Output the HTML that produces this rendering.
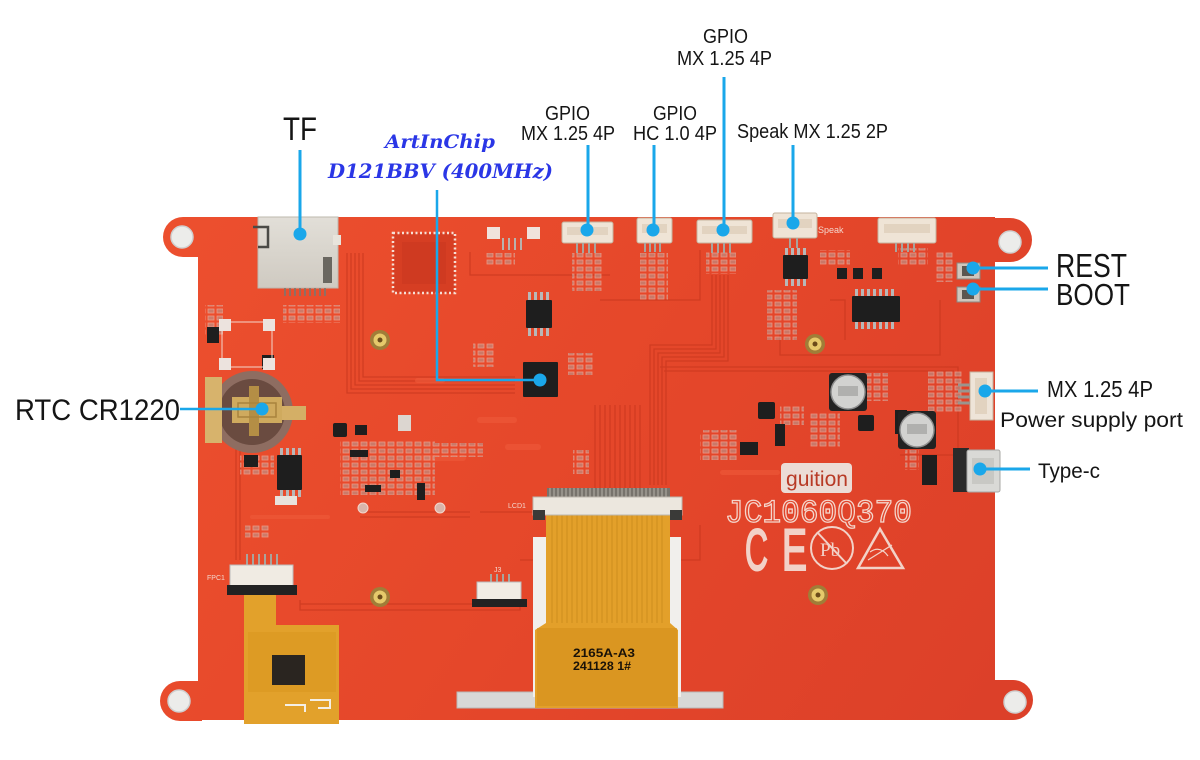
<!DOCTYPE html>
<html><head><meta charset="utf-8">
<style>
html,body{margin:0;padding:0;background:#fff;}
svg{display:block;}
.lbl{font-family:"Liberation Sans",sans-serif;fill:#151515;}
.blu{font-family:"DejaVu Serif","Liberation Serif",serif;font-style:italic;font-weight:bold;fill:#2a36e6;}
.silk{font-family:"Liberation Sans",sans-serif;fill:#f4d6cc;}
</style></head><body>
<svg width="1200" height="760" viewBox="0 0 1200 760" xmlns="http://www.w3.org/2000/svg">
<defs>
<linearGradient id="pcb" gradientUnits="userSpaceOnUse" x1="200" y1="217" x2="995" y2="720">
<stop offset="0" stop-color="#ec4f2e"/>
<stop offset="0.5" stop-color="#e5472a"/>
<stop offset="1" stop-color="#dc4029"/>
</linearGradient>
<linearGradient id="silver" x1="0" y1="0" x2="0" y2="1">
<stop offset="0" stop-color="#e2dfd8"/><stop offset="1" stop-color="#cfcac1"/>
</linearGradient>
<pattern id="res" width="9" height="7" patternUnits="userSpaceOnUse">
<rect x="1" y="1" width="6" height="4" fill="#b99a92" stroke="#f0c8bc" stroke-width="0.8"/>
</pattern>
</defs>
<rect width="1200" height="760" fill="#fff"/>

<!-- PCB body -->
<g fill="url(#pcb)">
<rect x="198" y="217" width="797" height="503"/>
<circle cx="183" cy="237" r="20"/><rect x="183" y="217" width="20" height="40"/>
<circle cx="1010" cy="240" r="22"/><rect x="990" y="218" width="20" height="44"/>
<circle cx="180" cy="701" r="20"/><rect x="180" y="681" width="22" height="40"/>
<circle cx="1013" cy="700" r="20"/><rect x="990" y="680" width="23" height="40"/>
</g>
<g fill="#ececea" stroke="#cfcfcf" stroke-width="1.5">
<circle cx="182" cy="237" r="11"/><circle cx="1010" cy="242" r="11"/>
<circle cx="179" cy="701" r="11"/><circle cx="1015" cy="702" r="11"/>
</g>

<!-- traces -->
<g fill="none" stroke="#c9381f" stroke-width="1.3" opacity="0.75">
<path d="M712 275 V345 H650 V485"/><path d="M716 275 V349 H654 V485"/><path d="M720 275 V353 H658 V485"/><path d="M724 275 V357 H662 V485"/><path d="M728 275 V361 H666 V485"/>
<path d="M347 253 V393 H515"/><path d="M351 253 V389 H515"/><path d="M355 253 V385 H515"/><path d="M359 253 V381 H515"/><path d="M363 253 V377 H515"/>
<path d="M595 405 V488"/><path d="M600 405 V488"/><path d="M605 405 V488"/><path d="M610 405 V488"/><path d="M615 405 V488"/><path d="M620 405 V488"/><path d="M625 405 V488"/><path d="M630 405 V488"/><path d="M635 405 V488"/><path d="M640 405 V488"/>
<path d="M660 367 H958 V455"/><path d="M664 371 H954"/>
<path d="M470 252 V275 H610"/><path d="M600 300 H700 V250"/>
<path d="M236 560 V420 H205"/><path d="M240 560 V425"/>
<path d="M360 512 H470"/><path d="M360 517 H470"/><path d="M480 512 H560 V488"/>
<path d="M520 560 H700 V525"/><path d="M780 330 V355 H940 V300"/>
<path d="M830 300 H845 V340"/><path d="M900 455 H960"/>
<path d="M300 600 V610 H520 V590"/><path d="M300 604 H516"/>
</g>
<g fill="#ef5a3a" opacity="0.6">
<rect x="477" y="417" width="40" height="6" rx="3"/><rect x="505" y="444" width="36" height="6" rx="3"/>
<rect x="420" y="455" width="46" height="6" rx="3"/><rect x="720" y="470" width="60" height="5" rx="2.5"/>
<rect x="415" y="378" width="30" height="5" rx="2.5"/><rect x="250" y="515" width="80" height="4" rx="2"/>
</g>

<!-- small resistor fields -->
<g fill="url(#res)" opacity="0.6">
<rect x="572" y="253" width="30" height="38"/><rect x="640" y="253" width="28" height="48"/>
<rect x="706" y="252" width="30" height="22"/><rect x="283" y="305" width="57" height="18"/>
<rect x="485" y="253" width="30" height="12"/><rect x="473" y="343" width="22" height="24"/>
<rect x="568" y="353" width="25" height="22"/><rect x="767" y="290" width="30" height="50"/>
<rect x="935" y="252" width="18" height="30"/><rect x="928" y="370" width="34" height="42"/>
<rect x="700" y="433" width="37" height="27"/><rect x="780" y="405" width="24" height="20"/>
<rect x="810" y="413" width="30" height="34"/><rect x="866" y="373" width="22" height="28"/>
<rect x="340" y="440" width="95" height="55"/><rect x="433" y="443" width="50" height="14"/>
<rect x="573" y="450" width="16" height="24"/><rect x="703" y="430" width="34" height="30"/>
<rect x="205" y="305" width="18" height="30"/><rect x="240" y="455" width="34" height="20"/>
<rect x="245" y="525" width="25" height="14"/><rect x="820" y="250" width="30" height="15"/>
<rect x="898" y="248" width="30" height="18"/><rect x="905" y="450" width="14" height="20"/>
</g>

<!-- TF slot -->
<rect x="258" y="217" width="80" height="71" fill="url(#silver)" stroke="#bdb8ae" stroke-width="1"/>
<path d="M253 227 H268 V247 H258" fill="none" stroke="#4a4a46" stroke-width="2.5"/>
<rect x="323" y="257" width="9" height="26" fill="#6a6760"/>
<rect x="333" y="235" width="8" height="10" fill="#e8e4dc"/>
<g stroke="#7a776f" stroke-width="1.6"><path d="M285 288V296M290 288V296M295 288V296M300 288V296M305 288V296M310 288V296M315 288V296M320 288V296M325 288V296"/></g>

<!-- U9 -->
<rect x="393" y="233" width="62" height="60" fill="#d63e23" stroke="#f6e0d6" stroke-width="2.5" stroke-dasharray="2 2.5"/>
<rect x="402" y="242" width="44" height="42" fill="#cf3a21"/>

<!-- P5 -->
<rect x="487" y="227" width="13" height="12" fill="#f0e2dc"/><rect x="527" y="227" width="13" height="12" fill="#f0e2dc"/>
<g stroke="#b9b2ad" stroke-width="2"><path d="M503 238V250M509 238V250M515 238V250M521 238V250"/></g>

<!-- top connectors -->
<g fill="#efe4d6" stroke="#c6b39e" stroke-width="1">
<rect x="562" y="222" width="51" height="21" rx="2"/>
<rect x="637" y="218" width="35" height="25" rx="2"/>
<rect x="697" y="220" width="55" height="23" rx="2"/>
<rect x="773" y="213" width="44" height="25" rx="2"/>
<rect x="878" y="218" width="58" height="25" rx="2"/>
</g>
<g fill="#e2d3c0">
<rect x="567" y="227" width="41" height="8"/><rect x="642" y="224" width="25" height="9"/>
<rect x="702" y="226" width="45" height="8"/><rect x="778" y="219" width="34" height="9"/>
<rect x="884" y="224" width="46" height="9"/>
</g>
<g stroke="#a9a49d" stroke-width="2">
<path d="M577 243V253M583 243V253M589 243V253M595 243V253"/>
<path d="M645 243V252M650 243V252M655 243V252M660 243V252"/>
<path d="M712 243V253M718 243V253M724 243V253M730 243V253"/>
<path d="M790 238V248M797 238V248"/>
<path d="M896 243V252M902 243V252M908 243V252M914 243V252"/>
</g>
<text class="silk" x="818" y="233" font-size="9">Speak</text>

<!-- chips -->
<g fill="#1e1e1e">
<rect x="526" y="300" width="26" height="28" rx="1"/>
<rect x="523" y="362" width="35" height="35" rx="1"/>
<rect x="783" y="255" width="25" height="24" rx="1"/>
<rect x="852" y="296" width="48" height="26" rx="1"/>
<rect x="277" y="455" width="25" height="35" rx="1"/>
<rect x="837" y="268" width="10" height="11"/><rect x="853" y="268" width="10" height="11"/><rect x="872" y="268" width="10" height="11"/>
<rect x="758" y="402" width="17" height="17" rx="2"/><rect x="858" y="415" width="16" height="16" rx="2"/>
<rect x="333" y="423" width="14" height="14" rx="2"/><rect x="355" y="425" width="12" height="10"/>
<rect x="350" y="450" width="18" height="7"/><rect x="365" y="485" width="16" height="7"/>
<rect x="390" y="470" width="10" height="8"/><rect x="417" y="483" width="8" height="17"/>
<rect x="244" y="455" width="14" height="12"/><rect x="740" y="442" width="18" height="13"/>
<rect x="775" y="424" width="10" height="22"/><rect x="895" y="410" width="12" height="24"/>
<rect x="207" y="327" width="12" height="16"/><rect x="262" y="355" width="12" height="14"/>
<rect x="922" y="455" width="15" height="30"/><rect x="810" y="470" width="12" height="10"/>
</g>
<g fill="#b8b8b8">
<rect x="528" y="292" width="3" height="8"/><rect x="534" y="292" width="3" height="8"/><rect x="540" y="292" width="3" height="8"/><rect x="546" y="292" width="3" height="8"/>
<rect x="528" y="328" width="3" height="8"/><rect x="534" y="328" width="3" height="8"/><rect x="540" y="328" width="3" height="8"/><rect x="546" y="328" width="3" height="8"/>
<rect x="785" y="248" width="3" height="7"/><rect x="791" y="248" width="3" height="7"/><rect x="797" y="248" width="3" height="7"/><rect x="803" y="248" width="3" height="7"/>
<rect x="785" y="279" width="3" height="7"/><rect x="791" y="279" width="3" height="7"/><rect x="797" y="279" width="3" height="7"/><rect x="803" y="279" width="3" height="7"/>
<rect x="855" y="289" width="3" height="7"/><rect x="861" y="289" width="3" height="7"/><rect x="867" y="289" width="3" height="7"/><rect x="873" y="289" width="3" height="7"/><rect x="879" y="289" width="3" height="7"/><rect x="885" y="289" width="3" height="7"/><rect x="891" y="289" width="3" height="7"/>
<rect x="855" y="322" width="3" height="7"/><rect x="861" y="322" width="3" height="7"/><rect x="867" y="322" width="3" height="7"/><rect x="873" y="322" width="3" height="7"/><rect x="879" y="322" width="3" height="7"/><rect x="885" y="322" width="3" height="7"/><rect x="891" y="322" width="3" height="7"/>
<rect x="280" y="448" width="3" height="7"/><rect x="286" y="448" width="3" height="7"/><rect x="292" y="448" width="3" height="7"/><rect x="298" y="448" width="3" height="7"/>
<rect x="280" y="490" width="3" height="7"/><rect x="286" y="490" width="3" height="7"/><rect x="292" y="490" width="3" height="7"/><rect x="298" y="490" width="3" height="7"/>
</g>
<rect x="275" y="496" width="22" height="9" fill="#e8e2dc"/>
<rect x="398" y="415" width="13" height="16" fill="#dcd6d0"/>
<circle cx="363" cy="508" r="5" fill="#d9b5aa" stroke="#f3d6cc"/><circle cx="440" cy="508" r="5" fill="#d9b5aa" stroke="#f3d6cc"/>

<!-- buttons -->
<rect x="957" y="263" width="23" height="16" fill="#cfc6bd" stroke="#8d8680"/><rect x="962" y="266" width="12" height="10" fill="#5c5650"/>
<rect x="957" y="287" width="23" height="15" fill="#cfc6bd" stroke="#8d8680"/><rect x="962" y="290" width="12" height="9" fill="#5c5650"/>

<!-- 4 pad square -->
<rect x="222" y="322" width="50" height="45" fill="none" stroke="#f3d6cc" stroke-width="1"/>
<g fill="#ece3de"><rect x="219" y="319" width="12" height="12"/><rect x="263" y="319" width="12" height="12"/><rect x="219" y="358" width="12" height="12"/><rect x="263" y="358" width="12" height="12"/></g>

<!-- coin cell -->
<circle cx="252" cy="412" r="41" fill="#8e6d61"/>
<circle cx="252" cy="412" r="33" fill="#6a4b40"/>
<rect x="205" y="377" width="17" height="66" fill="#d7b36c"/>
<rect x="232" y="397" width="50" height="26" fill="#cfaa5e"/>
<rect x="282" y="406" width="24" height="14" fill="#d4af66"/>
<rect x="249" y="386" width="10" height="50" fill="#b48e45"/>
<rect x="238" y="403" width="38" height="14" fill="none" stroke="#a9833d" stroke-width="1.5"/>

<!-- standoffs -->
<g>
<circle cx="380" cy="340" r="10" fill="#a07d38"/><circle cx="380" cy="340" r="6.5" fill="#e6c96b"/><circle cx="380" cy="340" r="2.5" fill="#6b4b1a"/>
<circle cx="380" cy="597" r="10" fill="#a07d38"/><circle cx="380" cy="597" r="6.5" fill="#e6c96b"/><circle cx="380" cy="597" r="2.5" fill="#6b4b1a"/>
<circle cx="815" cy="344" r="10" fill="#a07d38"/><circle cx="815" cy="344" r="6.5" fill="#e6c96b"/><circle cx="815" cy="344" r="2.5" fill="#6b4b1a"/>
<circle cx="818" cy="595" r="10" fill="#a07d38"/><circle cx="818" cy="595" r="6.5" fill="#e6c96b"/><circle cx="818" cy="595" r="2.5" fill="#6b4b1a"/>
</g>

<!-- capacitors -->
<rect x="829" y="373" width="38" height="38" rx="3" fill="#222"/>
<circle cx="848" cy="392" r="17" fill="#d2d2d0" stroke="#8e8e8e" stroke-width="1.5"/>
<rect x="838" y="386" width="20" height="10" fill="#9a9a98" opacity="0.6"/>
<rect x="898" y="411" width="38" height="38" rx="3" fill="#222"/>
<circle cx="917" cy="430" r="17" fill="#d2d2d0" stroke="#8e8e8e" stroke-width="1.5"/>
<rect x="907" y="424" width="20" height="10" fill="#9a9a98" opacity="0.6"/>

<!-- power connector -->
<rect x="970" y="372" width="23" height="48" fill="#eee4d8" stroke="#c5b3a0"/>
<rect x="975" y="378" width="12" height="36" fill="#e2d3c0"/>
<g stroke="#9a958e" stroke-width="3"><path d="M958 385H970M958 391H970M958 397H970M958 403H970"/></g>

<!-- USB-C -->
<rect x="953" y="448" width="16" height="44" fill="#2a2a2a"/>
<rect x="967" y="450" width="33" height="42" rx="2" fill="#d9d9d6" stroke="#a8a8a5"/>
<rect x="972" y="458" width="22" height="26" fill="#c8c8c4"/>

<!-- guition + marks -->
<rect x="781" y="463" width="71" height="30" rx="4" fill="#ecdcd6"/>
<text x="786" y="486" font-family="Liberation Sans,sans-serif" font-size="21" fill="#b83a26" textLength="62" lengthAdjust="spacingAndGlyphs">guition</text>
<text x="725" y="522" font-family="Liberation Mono,monospace" font-size="32" fill="none" stroke="#f4d6cc" stroke-width="1.3" textLength="187" lengthAdjust="spacingAndGlyphs">JC1060Q370</text>
<text x="745" y="570" font-family="Liberation Sans,sans-serif" font-size="58" fill="#f2d2c8" stroke="#f2d2c8" stroke-width="2" textLength="23" lengthAdjust="spacingAndGlyphs">C</text>
<text x="782" y="570" font-family="Liberation Sans,sans-serif" font-size="58" fill="#f2d2c8" stroke="#f2d2c8" stroke-width="2" textLength="25" lengthAdjust="spacingAndGlyphs">E</text>
<circle cx="832" cy="548" r="21" fill="none" stroke="#f2d2c8" stroke-width="2"/>
<text x="820" y="556" font-family="Liberation Serif,serif" font-size="19" fill="#f2d2c8">Pb</text>
<path d="M817 532 L847 564" stroke="#f2d2c8" stroke-width="2"/>
<polygon points="880,529 858,568 903,568" fill="none" stroke="#f2d2c8" stroke-width="2.5"/>
<path d="M870 552 Q880 545 888 556 M868 560 L892 545" fill="none" stroke="#f2d2c8" stroke-width="1.2"/>

<!-- silver strip -->
<rect x="457" y="692" width="266" height="16" fill="#d8d8d6" stroke="#b9b9b7"/>

<!-- LCD backing + flex -->
<rect x="533" y="537" width="148" height="160" fill="#f1efec"/>
<path d="M546 515 H670 V623 L678 630 V708 H535 V630 L546 623 Z" fill="#e3a02a"/>
<g stroke="#c98a1d" stroke-width="1" opacity="0.8">
<path d="M552 515V623M557 515V623M562 515V623M567 515V623M572 515V623M577 515V623M582 515V623M587 515V623M592 515V623M597 515V623M602 515V623M607 515V623M612 515V623M617 515V623M622 515V623M627 515V623M632 515V623M637 515V623M642 515V623M647 515V623M652 515V623M657 515V623M662 515V623"/>
</g>
<rect x="537" y="628" width="140" height="78" fill="#d4901c" opacity="0.6"/>
<text x="573" y="657" font-family="Liberation Sans,sans-serif" font-size="12" font-weight="bold" fill="#1a1208" textLength="62" lengthAdjust="spacingAndGlyphs">2165A-A3</text>
<text x="573" y="670" font-family="Liberation Sans,sans-serif" font-size="12" font-weight="bold" fill="#1a1208" textLength="58" lengthAdjust="spacingAndGlyphs">241128 1#</text>
<!-- LCD1 connector -->
<rect x="547" y="488" width="123" height="10" fill="#77736c"/>
<g stroke="#b5b0a8" stroke-width="1"><path d="M550 488V498M554 488V498M558 488V498M562 488V498M566 488V498M570 488V498M574 488V498M578 488V498M582 488V498M586 488V498M590 488V498M594 488V498M598 488V498M602 488V498M606 488V498M610 488V498M614 488V498M618 488V498M622 488V498M626 488V498M630 488V498M634 488V498M638 488V498M642 488V498M646 488V498M650 488V498M654 488V498M658 488V498M662 488V498M666 488V498"/></g>
<rect x="533" y="497" width="149" height="18" fill="#ece7de" stroke="#bdb7ad"/>
<rect x="533" y="510" width="12" height="10" fill="#3a3a38"/><rect x="670" y="510" width="12" height="10" fill="#3a3a38"/>
<text class="silk" x="508" y="508" font-size="7">LCD1</text>

<!-- J3 -->
<g stroke="#a9a49d" stroke-width="2"><path d="M491 574V583M497 574V583M503 574V583M509 574V583"/></g>
<rect x="477" y="582" width="44" height="19" fill="#f1ece4" stroke="#bbb"/>
<rect x="472" y="599" width="55" height="8" fill="#222"/>
<text class="silk" x="494" y="572" font-size="7">J3</text>

<!-- FPC1 + left flex -->
<g stroke="#a9a49d" stroke-width="2"><path d="M247 554V566M253 554V566M259 554V566M265 554V566M271 554V566M277 554V566"/></g>
<rect x="230" y="565" width="63" height="22" fill="#f0ebe3" stroke="#bbb"/>
<rect x="227" y="585" width="70" height="10" fill="#222"/>
<text class="silk" x="207" y="580" font-size="7">FPC1</text>
<polygon points="244,595 276,595 276,625 339,625 339,724 244,724" fill="#e2a12b"/>
<rect x="248" y="632" width="88" height="60" fill="#d8951d" opacity="0.5"/>
<rect x="272" y="655" width="33" height="30" fill="#2a2520"/>
<path d="M285 705 H305 V712 M310 700 H330 V708 H318" fill="none" stroke="#f4efe6" stroke-width="2"/>

<!-- callout lines -->
<g stroke="#1aa7ea" stroke-width="3" fill="none">
<path d="M300 150 V234"/>
<path d="M437 190 V380 H540" stroke-width="2.5"/>
<path d="M588 145 V230"/>
<path d="M654 145 V230"/>
<path d="M724 77 V230"/>
<path d="M793 145 V223"/>
<path d="M973 268 H1048"/>
<path d="M973 289 H1048"/>
<path d="M985 391 H1038"/>
<path d="M980 469 H1030"/>
<path d="M180 409 H262" stroke-width="2.5"/>
</g>
<g fill="#1aa7ea">
<circle cx="300" cy="234" r="6.5"/><circle cx="540" cy="380" r="6.5"/>
<circle cx="587" cy="230" r="6.5"/><circle cx="653" cy="230" r="6.5"/>
<circle cx="723" cy="230" r="6.5"/><circle cx="793" cy="223" r="6.5"/>
<circle cx="973" cy="268" r="6.5"/><circle cx="973" cy="289" r="6.5"/>
<circle cx="985" cy="391" r="6.5"/><circle cx="980" cy="469" r="6.5"/>
<circle cx="262" cy="409" r="6.5"/>
</g>

<!-- labels -->
<text class="lbl" x="283" y="140" font-size="32" textLength="34" lengthAdjust="spacingAndGlyphs">TF</text>
<text class="lbl" x="15" y="420" font-size="30" textLength="165" lengthAdjust="spacingAndGlyphs">RTC CR1220</text>
<text class="lbl" x="703" y="43" font-size="20" textLength="45" lengthAdjust="spacingAndGlyphs">GPIO</text>
<text class="lbl" x="677" y="65" font-size="20" textLength="95" lengthAdjust="spacingAndGlyphs">MX 1.25 4P</text>
<text class="lbl" x="545" y="120" font-size="20" textLength="45" lengthAdjust="spacingAndGlyphs">GPIO</text>
<text class="lbl" x="521" y="140" font-size="20" textLength="94" lengthAdjust="spacingAndGlyphs">MX 1.25 4P</text>
<text class="lbl" x="653" y="120" font-size="20" textLength="44" lengthAdjust="spacingAndGlyphs">GPIO</text>
<text class="lbl" x="633" y="140" font-size="20" textLength="84" lengthAdjust="spacingAndGlyphs">HC 1.0 4P</text>
<text class="lbl" x="737" y="138" font-size="20" textLength="151" lengthAdjust="spacingAndGlyphs">Speak MX 1.25 2P</text>
<text class="lbl" x="1056" y="277" font-size="33" textLength="71" lengthAdjust="spacingAndGlyphs">REST</text>
<text class="lbl" x="1056" y="305" font-size="31" textLength="74" lengthAdjust="spacingAndGlyphs">BOOT</text>
<text class="lbl" x="1047" y="397" font-size="23" textLength="106" lengthAdjust="spacingAndGlyphs">MX 1.25 4P</text>
<text class="lbl" x="1000" y="427" font-size="21" textLength="183" lengthAdjust="spacingAndGlyphs">Power supply port</text>
<text class="lbl" x="1038" y="478" font-size="21" textLength="62" lengthAdjust="spacingAndGlyphs">Type-c</text>
<text class="blu" x="385" y="148" font-size="19" textLength="110" lengthAdjust="spacingAndGlyphs">ArtInChip</text>
<text class="blu" x="328" y="178" font-size="20" textLength="225" lengthAdjust="spacingAndGlyphs">D121BBV (400MHz)</text>
</svg>
</body></html>
